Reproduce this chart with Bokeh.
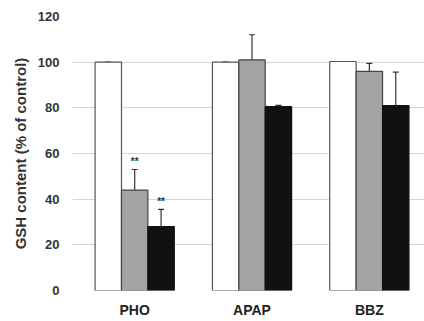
from bokeh.plotting import figure
from bokeh.models import ColumnDataSource, Whisker, FixedTicker, Range1d
from bokeh.core.properties import value
from bokeh.embed import file_html
from bokeh.resources import INLINE

compounds = ["PHO", "APAP", "BBZ"]
white_vals = [100, 100, 100.3]
white_err = [0, 0, 0]
gray_vals = [44, 101, 96]
gray_err = [9, 11, 3.5]
black_vals = [28, 80.5, 81]
black_err = [7.5, 0.6, 14.6]
gray_sig = ["**", "", ""]
black_sig = ["**", "", ""]
y_ticks = [0, 20, 40, 60, 80, 100, 120]

FONT = "Liberation Sans"
xpos = [1, 2, 3]
off = 0.225
bw = 0.225

p = figure(frame_width=352, frame_height=274, output_backend="svg", toolbar_location=None,
           x_range=Range1d(0.47, 3.47), y_range=Range1d(0, 120),
           min_border_left=72, min_border_right=0, min_border_top=16, min_border_bottom=10)
p.outline_line_color = None
p.background_fill_color = "white"
p.border_fill_color = "white"

series = [
    (white_vals, white_err, -off, "white", "#555555"),
    (gray_vals, gray_err, 0.0, "#a3a3a3", "#444444"),
    (black_vals, black_err, off, "#111111", "#111111"),
]
for vals, errs, dx, fill, line in series:
    xs = [x + dx for x in xpos]
    src = ColumnDataSource(dict(x=xs, top=vals, lower=vals,
                                upper=[v + e for v, e in zip(vals, errs)]))
    p.vbar(x="x", top="top", width=bw, source=src, fill_color=fill,
           line_color=line, line_width=1.2)
    w = Whisker(base="x", lower="lower", upper="upper", source=src,
                line_color="#333333", line_width=1.2, lower_head=None)
    w.upper_head.size = 6
    w.upper_head.line_color = "#333333"
    w.upper_head.line_width = 1.2
    p.add_layout(w)

for vals, errs, dx, sig in [(gray_vals, gray_err, 0.0, gray_sig),
                            (black_vals, black_err, off, black_sig)]:
    src = ColumnDataSource(dict(x=[x + dx for x in xpos],
                                y=[v + e + 1 for v, e in zip(vals, errs)], t=sig))
    p.text(x="x", y="y", text="t", source=src, text_align="center",
           text_baseline="bottom", text_font=value(FONT), text_font_size="10px",
           text_font_style="bold", text_color="#333333")

p.xgrid.grid_line_color = None
p.ygrid.grid_line_color = "#d6d6d6"
p.ygrid.ticker = FixedTicker(ticks=y_ticks)

p.yaxis.ticker = FixedTicker(ticks=y_ticks)
p.yaxis.axis_line_color = None
p.yaxis.major_tick_line_color = None
p.yaxis.minor_tick_line_color = None
p.yaxis.major_label_text_font = FONT
p.yaxis.major_label_text_font_style = "bold"
p.yaxis.major_label_text_font_size = "13px"
p.yaxis.major_label_text_color = "#333333"
p.yaxis.major_label_standoff = 7
p.yaxis.axis_label = "GSH content (% of control)"
p.yaxis.axis_label_text_font = FONT
p.yaxis.axis_label_text_font_style = "bold"
p.yaxis.axis_label_text_font_size = "15px"
p.yaxis.axis_label_text_color = "#333333"
p.yaxis.axis_label_standoff = 6

p.xaxis.ticker = FixedTicker(ticks=xpos)
p.xaxis.major_label_overrides = {x: c for x, c in zip(xpos, compounds)}
p.xaxis.axis_line_color = None
p.xaxis.major_tick_line_color = None
p.xaxis.minor_tick_line_color = None
p.xaxis.major_label_text_font = FONT
p.xaxis.major_label_text_font_style = "bold"
p.xaxis.major_label_text_font_size = "14px"
p.xaxis.major_label_text_color = "#222222"
p.xaxis.major_label_standoff = 5

open("out.html", "w").write(file_html(p, INLINE))
